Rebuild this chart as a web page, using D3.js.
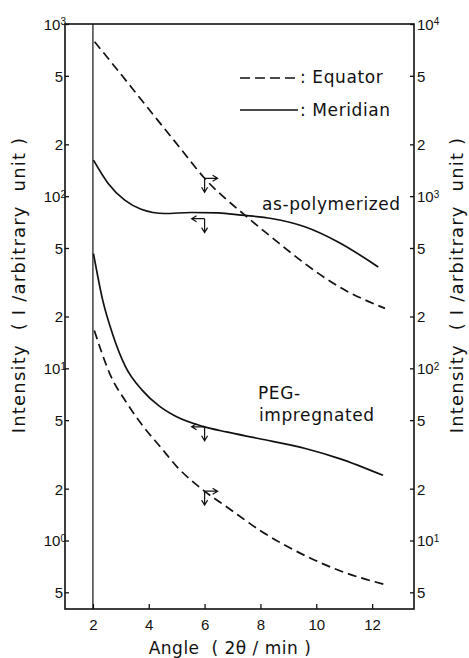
<!DOCTYPE html>
<html>
<head>
<meta charset="utf-8">
<script src="https://cdn.jsdelivr.net/npm/d3@7"></script>
<style>
body { margin: 0; background: #fff; }
svg { display: block; }
text { fill: #111; }
</style>
</head>
<body>
<svg id="chart"></svg>
<script>
// angle (2θ, min) against intensity
// meridian curves belong to the left axis, equator curves to the right axis
var merPolyAngle = [2.02, 2.54, 3.14, 3.73, 4.57, 5.52, 6.48, 7.32, 8.39, 9.59, 10.78, 12.22];
var merPolyValue = [162, 119, 94.8, 84.0, 79.3, 80.4, 80.0, 77.6, 74.2, 66.4, 54.2, 38.8];

var eqPolyAngle = [2.06, 2.90, 3.97, 5.05, 6.00, 7.44, 8.46, 9.59, 10.78, 12.46];
var eqPolyValue = [7890, 5360, 3250, 1970, 1270, 776, 567, 406, 300, 223];

var merPegAngle = [2.02, 2.35, 2.70, 3.17, 3.77, 4.38, 4.98, 5.94, 6.78, 7.97, 9.64, 10.83, 12.39];
var merPegValue = [46.4, 24.9, 15.9, 10.2, 7.45, 6.03, 5.25, 4.60, 4.27, 3.90, 3.41, 2.99, 2.39];

var eqPegAngle = [2.05, 2.63, 3.23, 3.82, 4.42, 5.02, 5.97, 6.81, 8.00, 9.68, 10.87, 12.54];
var eqPegValue = [166, 91, 62.3, 45.6, 34.9, 26.7, 19.5, 15.6, 11.4, 8.05, 6.65, 5.5];

var xTicks = [2, 4, 6, 8, 10, 12];
var leftTicks = [0.5, 1, 2, 5, 10, 20, 50, 100, 200, 500, 1000];
var rightTicks = [5, 10, 20, 50, 100, 200, 500, 1000, 2000, 5000, 10000];
var legendLabels = ["Equator", "Meridian"];
var arrowAngle = 6;

var svgWidth = 469, svgHeight = 658;
var margin = { top: 24, right: 55, bottom: 49, left: 65 };
var width = svgWidth - margin.left - margin.right;
var height = svgHeight - margin.top - margin.bottom;

var svg = d3.select("#chart")
    .attr("width", svgWidth)
    .attr("height", svgHeight);

var g = svg.append("g")
    .attr("transform", "translate(" + margin.left + "," + margin.top + ")");

var x = d3.scaleLinear().domain([1, 13.5]).range([0, width]);
var yLeft = d3.scaleLog().domain([0.4, 1000]).range([height, 0]);
var yRight = d3.scaleLog().domain([4, 10000]).range([height, 0]);

var tickFont = "'Liberation Sans', Arial, sans-serif";
var wordFont = "'DejaVu Sans', sans-serif";
var nb = "\u00a0";

// 10^n labels get a superscript, the rest only the leading digit
function logLabel(sel, powerShift) {
    sel.each(function(d) {
        var t = d3.select(this);
        var e = Math.round(Math.log10(d) * 1000) / 1000;
        t.text(null);
        if (Number.isInteger(e)) {
            t.attr("x", +t.attr("x") + powerShift);
            t.append("tspan").text("10");
            t.append("tspan").attr("dy", "-0.45em").attr("font-size", "10px").text(e);
        } else {
            t.text(Math.round(d / Math.pow(10, Math.floor(e))));
        }
    });
}

// left axis
var gl = g.append("g")
    .call(d3.axisLeft(yLeft).tickValues(leftTicks).tickSize(-4).tickPadding(2));
gl.selectAll(".tick text").call(logLabel, 3);

// right axis
var gr = g.append("g")
    .attr("transform", "translate(" + width + ",0)")
    .call(d3.axisRight(yRight).tickValues(rightTicks).tickSize(-4).tickPadding(3));
gr.selectAll(".tick text").call(logLabel, 0);

// bottom axis
var gb = g.append("g")
    .attr("transform", "translate(0," + height + ")")
    .call(d3.axisBottom(x).tickValues(xTicks).tickSize(-5).tickPadding(10).tickFormat(d3.format("d")));

g.selectAll(".domain").remove();
g.selectAll(".tick line").attr("stroke", "#111").attr("stroke-width", 1.3);
g.selectAll(".tick text")
    .attr("fill", "#111")
    .style("font-family", tickFont)
    .style("font-size", "15px");
gl.selectAll(".tick text").attr("dy", "0.36em");
gr.selectAll(".tick text").attr("dy", "0.36em");

// frame
g.append("rect")
    .attr("width", width)
    .attr("height", height)
    .attr("fill", "none")
    .attr("stroke", "#111")
    .attr("stroke-width", 1.6);

// vertical line at 2θ = 2
g.append("line")
    .attr("x1", x(2)).attr("x2", x(2))
    .attr("y1", 0).attr("y2", height)
    .attr("stroke", "#111")
    .attr("stroke-width", 1.2);

var series = [
    { angle: eqPolyAngle, value: eqPolyValue, y: yRight, dashed: true, dir: 1 },
    { angle: merPolyAngle, value: merPolyValue, y: yLeft, dashed: false, dir: -1 },
    { angle: merPegAngle, value: merPegValue, y: yLeft, dashed: false, dir: -1 },
    { angle: eqPegAngle, value: eqPegValue, y: yRight, dashed: true, dir: 1 }
];

series.forEach(function(s) {
    var pts = s.angle.map(function(a, i) { return [a, s.value[i]]; });
    var line = d3.line()
        .x(function(d) { return x(d[0]); })
        .y(function(d) { return s.y(d[1]); })
        .curve(d3.curveMonotoneX);
    g.append("path")
        .datum(pts)
        .attr("fill", "none")
        .attr("stroke", "#111")
        .attr("stroke-width", 1.7)
        .attr("stroke-dasharray", s.dashed ? "9,5" : null)
        .attr("d", line);
});

// value of a series at angle a, interpolated on the log scale
function valueAt(xs, ys, a) {
    for (var i = 0; i < xs.length - 1; i++) {
        if (a >= xs[i] && a <= xs[i + 1]) {
            var t = (a - xs[i]) / (xs[i + 1] - xs[i]);
            return Math.pow(10, Math.log10(ys[i]) + t * (Math.log10(ys[i + 1]) - Math.log10(ys[i])));
        }
    }
    return ys[ys.length - 1];
}

// small arrows pointing to the axis each curve belongs to
var nudge = [0, 6, 0, 0];
series.forEach(function(s, i) {
    var px = x(arrowAngle), py = s.y(valueAt(s.angle, s.value, arrowAngle)) + nudge[i];
    var a = g.append("g")
        .attr("transform", "translate(" + px + "," + py + ")")
        .attr("fill", "none")
        .attr("stroke", "#111")
        .attr("stroke-width", 1.2);
    var h = 13 * s.dir;
    a.append("path").attr("d", "M0,0 V14 M-3,9 L0,14 L3,9");
    a.append("path").attr("d", "M0,0 H" + h + " M" + (h - 5 * s.dir) + ",-3 L" + h + ",0 L" + (h - 5 * s.dir) + ",3");
});

// legend
svg.append("line")
    .attr("x1", 240).attr("x2", 298).attr("y1", 78).attr("y2", 78)
    .attr("stroke", "#111").attr("stroke-width", 1.7).attr("stroke-dasharray", "10,5");
svg.append("line")
    .attr("x1", 240).attr("x2", 298).attr("y1", 110).attr("y2", 110)
    .attr("stroke", "#111").attr("stroke-width", 1.7);

var words = [
    { t: ":" + nb + legendLabels[0], x: 300, y: 83 },
    { t: ":" + nb + legendLabels[1], x: 300, y: 116 },
    { t: "as-polymerized", x: 262, y: 210 },
    { t: "PEG-", x: 258, y: 399 },
    { t: "impregnated", x: 259, y: 421 }
];
svg.selectAll(".word")
    .data(words)
    .enter().append("text")
    .attr("class", "word")
    .attr("x", function(d) { return d.x; })
    .attr("y", function(d) { return d.y; })
    .style("font-family", wordFont)
    .style("font-size", "17px")
    .style("letter-spacing", "0.6px")
    .text(function(d) { return d.t; });

// axis titles
svg.append("text")
    .attr("x", 230)
    .attr("y", 654)
    .attr("text-anchor", "middle")
    .style("font-family", wordFont)
    .style("font-size", "17px")
    .style("letter-spacing", "0.5px")
    .text("Angle" + nb + nb + "(" + nb + "2θ" + nb + "/" + nb + "min" + nb + ")");

[25, 463].forEach(function(tx) {
    svg.append("text")
        .attr("transform", "translate(" + tx + ",285) rotate(-90)")
        .attr("text-anchor", "middle")
        .style("font-family", wordFont)
        .style("font-size", "18px")
        .style("letter-spacing", "1.2px")
        .text("Intensity" + nb + nb + "(" + nb + "I" + nb + "/arbitrary" + nb + nb + "unit" + nb + ")");
});
</script>
</body>
</html>
